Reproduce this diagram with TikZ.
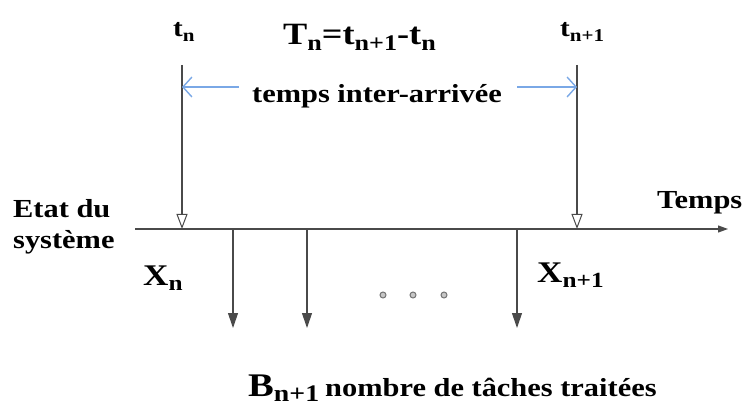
\documentclass[tikz,border=0pt]{standalone}
\usepackage{fontspec}
\setmainfont{Liberation Serif}[FakeStretch=1.17]
\usetikzlibrary{arrows.meta}
\definecolor{lgray}{HTML}{4A4A4A}
\definecolor{lblue}{HTML}{7AA8E6}
\newcommand\sbs[1]{\raisebox{-0.18em}{\scalebox{0.72}{#1}}}
\begin{document}
\begin{tikzpicture}[x=1pt,y=-1pt,
  line/.style={draw=lgray,line width=1.1pt},
  openarr/.style={line,-{Triangle[open,length=15pt,width=11pt,line width=1pt]}},
  downarr/.style={line,-{Triangle[length=15pt,width=10pt]}},
  bluearr/.style={draw=lblue,line width=1.4pt,-{Straight Barb[length=9pt,width=20pt,line width=1.4pt]}},
  lbl/.style={inner sep=0pt,font=\bfseries\fontsize{26}{30}\selectfont,text=black},
  big/.style={inner sep=0pt,font=\bfseries\fontsize{33}{36}\selectfont,text=black},
  form/.style={inner sep=0pt,font=\bfseries\fontsize{31}{34}\selectfont,text=black},
  mid/.style={inner sep=0pt,font=\bfseries\fontsize{30}{34}\selectfont,text=black},
  small/.style={inner sep=0pt,font=\bfseries\fontsize{25}{28}\selectfont,text=black},
  dot/.style={circle,draw=gray!90!black,fill=gray!45,line width=1pt,inner sep=0pt,minimum size=6pt}]
\useasboundingbox (0,0) rectangle (744,406);
% coordinates
\coordinate (axL) at (135,229);
\coordinate (axR) at (728,229);
\coordinate (tnTop) at (182,65);
\coordinate (tnBot) at (182,229);
\coordinate (tmTop) at (577,65);
\coordinate (tmBot) at (577,229);
\coordinate (tnMid) at (182,87);
\coordinate (tmMid) at (577,87);
\coordinate (b1T) at (233,229);
\coordinate (b1B) at (233,328);
\coordinate (b2T) at (307,229);
\coordinate (b2B) at (307,328);
\coordinate (b3T) at (517,229);
\coordinate (b3B) at (517,328);
% axis
\draw[line,-{Triangle[length=10pt,width=7pt]}] (axL) -- (axR);
% arrival arrows
\draw[openarr] (tnTop) -- (tnBot);
\draw[openarr] (tmTop) -- (tmBot);
% task arrows
\draw[downarr] (b1T) -- (b1B);
\draw[downarr] (b2T) -- (b2B);
\draw[downarr] (b3T) -- (b3B);
% texts
\node[small,anchor=base west] (tn) at (173,37) {t\sbs{n}};
\node[small,anchor=base west] (tm) at (560,37) {t\sbs{n+1}};
\node[form,anchor=base west] (Tn) at (283,45) {T\sbs{n}=t\sbs{n+1}-t\sbs{n}};
\node[lbl,anchor=base] (ia) at (377,103) {temps inter-arrivée};
\coordinate (iaL) at (239,87);
\coordinate (iaR) at (517,87);
\draw[bluearr] (iaL) -- (tnMid);
\draw[bluearr] (iaR) -- (tmMid);
\node[lbl,anchor=base west] (etat) at (13,218) {Etat du};
\node[lbl,anchor=base west] (sys) at (13,248) {système};
\node[lbl,anchor=base west] (temps) at (657,208) {Temps};
\node[mid,anchor=base west] (xn) at (143,285) {X\sbs{n}};
\node[mid,anchor=base west] (xm) at (537,282) {X\sbs{n+1}};
\node[big,anchor=base west] (bn) at (248,396) {B\sbs{n+1}};
\node[lbl,anchor=base west] (nb) at (325,396) {nombre de tâches traitées};
\node[dot] (d1) at (383,295) {};
\node[dot] (d2) at (413,295) {};
\node[dot] (d3) at (444,295) {};
\end{tikzpicture}
\end{document}
